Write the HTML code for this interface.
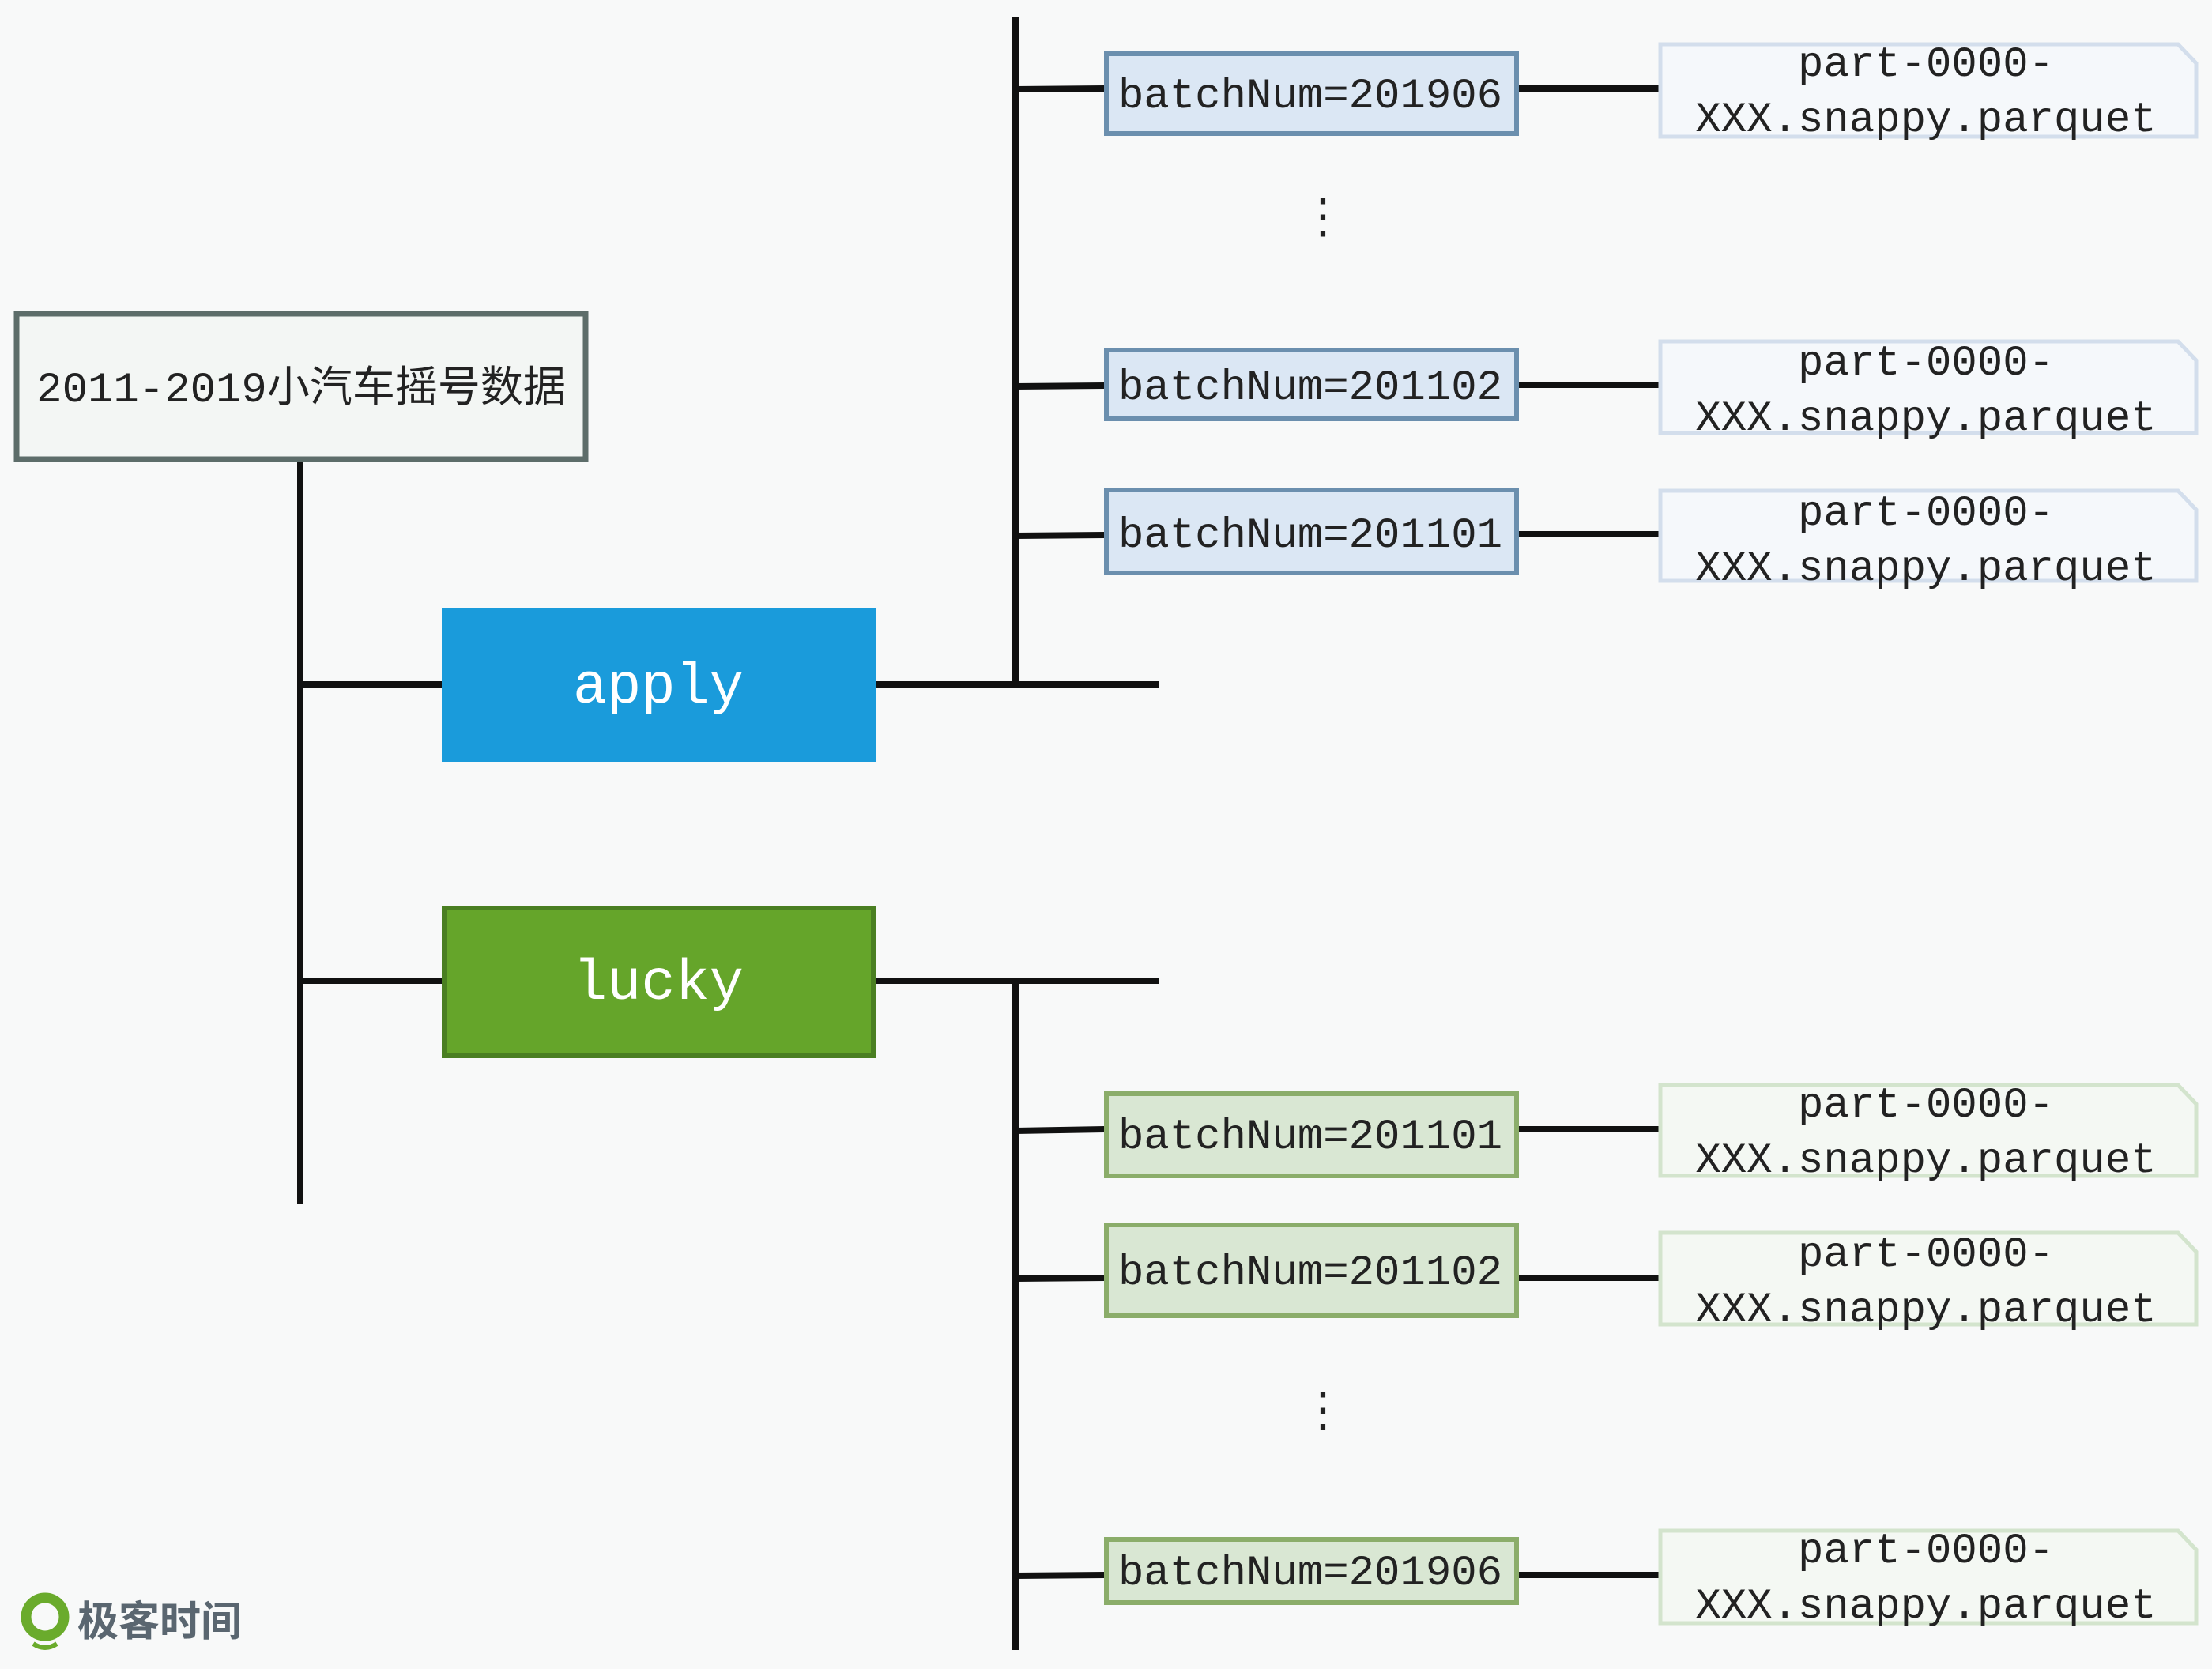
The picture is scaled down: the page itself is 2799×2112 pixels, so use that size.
<!DOCTYPE html>
<html><head><meta charset="utf-8"><style>
html,body{margin:0;padding:0;background:#f8f9f9;}
svg{display:block}
.m{font-family:"Liberation Mono","Noto Sans CJK SC",monospace;}
</style></head><body>
<svg width="2799" height="2112" viewBox="0 0 2799 2112" xmlns="http://www.w3.org/2000/svg">
<rect width="2799" height="2112" fill="#f8f9f9"/>
<g stroke="#111" stroke-width="8" fill="none">
<line x1="380" y1="584" x2="380" y2="1523"/>
<line x1="380" y1="866" x2="562" y2="866"/>
<line x1="380" y1="1241" x2="562" y2="1241"/>
<line x1="1108" y1="866" x2="1467" y2="866"/>
<line x1="1108" y1="1241" x2="1467" y2="1241"/>
<line x1="1285" y1="21" x2="1285" y2="866"/>
<line x1="1285" y1="1241" x2="1285" y2="2088"/>
<line x1="1285" y1="113" x2="1400" y2="112"/><line x1="1921" y1="112" x2="2099" y2="112"/>
<line x1="1285" y1="489" x2="1400" y2="488"/><line x1="1921" y1="487" x2="2099" y2="487"/>
<line x1="1285" y1="678" x2="1400" y2="677"/><line x1="1921" y1="676" x2="2099" y2="676"/>
<line x1="1285" y1="1431" x2="1400" y2="1429"/><line x1="1921" y1="1429" x2="2099" y2="1429"/>
<line x1="1285" y1="1618" x2="1400" y2="1617"/><line x1="1921" y1="1617" x2="2099" y2="1617"/>
<line x1="1285" y1="1994" x2="1400" y2="1993"/><line x1="1921" y1="1993" x2="2099" y2="1993"/>
</g>
<rect x="21" y="397" width="720" height="184" fill="#f3f6f4" stroke="#5d6d6a" stroke-width="7"/>
<text x="381" y="508" class="m" font-size="54" text-anchor="middle" fill="#222">2011-2019小汽车摇号数据</text>
<rect x="559" y="769" width="549" height="195" fill="#1a9bdb"/>
<text x="833" y="889" class="m" font-size="72" text-anchor="middle" fill="#fff">apply</text>
<rect x="562" y="1149" width="543" height="187" fill="#65a52a" stroke="#4a7f22" stroke-width="6"/>
<text x="833" y="1264" class="m" font-size="72" text-anchor="middle" fill="#fff">lucky</text>
<g fill="#dbe7f4" stroke="#6b8fae" stroke-width="6">
<rect x="1400" y="68" width="519" height="101"/>
<rect x="1400" y="443" width="519" height="87"/>
<rect x="1400" y="620" width="519" height="105"/>
</g>
<g fill="#d9e7d3" stroke="#8bad6a" stroke-width="6">
<rect x="1400" y="1384" width="519" height="104"/>
<rect x="1400" y="1550" width="519" height="115"/>
<rect x="1400" y="1948" width="519" height="80"/>
</g>
<g class="m" font-size="54" fill="#222" text-anchor="middle">
<text x="1658" y="136">batchNum=201906</text>
<text x="1658" y="505">batchNum=201102</text>
<text x="1658" y="692">batchNum=201101</text>
<text x="1658" y="1453">batchNum=201101</text>
<text x="1658" y="1625">batchNum=201102</text>
<text x="1658" y="2005">batchNum=201906</text>
</g>
<g class="m" font-size="60" fill="#222" text-anchor="middle">
<text x="1674" y="294">⋮</text>
<text x="1674" y="1804">⋮</text>
</g>
<g stroke-width="5">
<g fill="#f5f8fb" stroke="#d3deec">
<path d="M2101 56 H2756 L2779 80 V173 H2101 Z"/>
<path d="M2101 432 H2756 L2779 456 V548 H2101 Z"/>
<path d="M2101 621 H2756 L2779 645 V735 H2101 Z"/>
</g>
<g fill="#f4f8f3" stroke="#d3e4cd">
<path d="M2101 1373 H2756 L2779 1397 V1488 H2101 Z"/>
<path d="M2101 1560 H2756 L2779 1584 V1676 H2101 Z"/>
<path d="M2101 1937 H2756 L2779 1961 V2054 H2101 Z"/>
</g>
</g>
<g class="m" font-size="54" fill="#222" text-anchor="middle">
<text x="2437" y="96">part-0000-</text><text x="2437" y="166">XXX.snappy.parquet</text>
<text x="2437" y="474">part-0000-</text><text x="2437" y="544">XXX.snappy.parquet</text>
<text x="2437" y="664">part-0000-</text><text x="2437" y="734">XXX.snappy.parquet</text>
<text x="2437" y="1413">part-0000-</text><text x="2437" y="1483">XXX.snappy.parquet</text>
<text x="2437" y="1602">part-0000-</text><text x="2437" y="1672">XXX.snappy.parquet</text>
<text x="2437" y="1977">part-0000-</text><text x="2437" y="2047">XXX.snappy.parquet</text>
</g>
<circle cx="57" cy="2046" r="24" fill="none" stroke="#6aab2c" stroke-width="13"/>
<path d="M42 2080 Q57 2090 72 2080" stroke="#6aab2c" stroke-width="6" fill="none"/>
<text x="98" y="2070" font-family="'Noto Sans CJK SC',sans-serif" font-size="52" font-weight="bold" fill="#5a6670">极客时间</text>
</svg>
</body></html>
